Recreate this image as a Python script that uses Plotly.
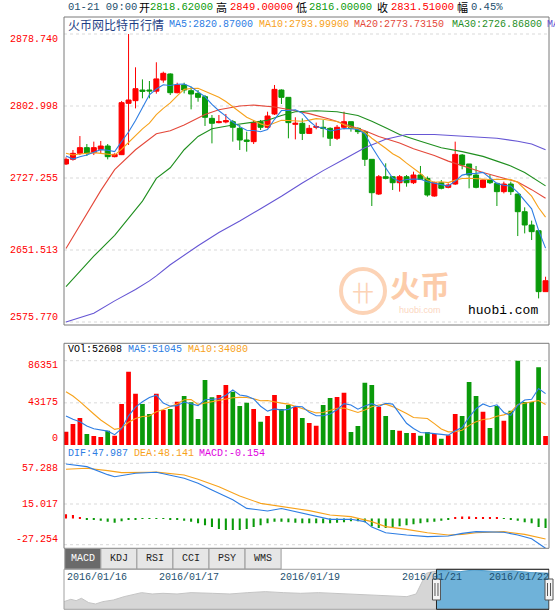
import plotly.graph_objects as go

# ---------------- data ----------------
hover_label = "01-21 09:00"
hover_idx = 13

opens = [2742.0, 2746.9, 2753.2, 2759.2, 2753.9, 2757.4, 2760.9, 2749.7, 2751.8, 2805.8,
         2808.6, 2819.8, 2819.8, 2818.62, 2830.3, 2836.7, 2817.0, 2825.1, 2819.1, 2816.3,
         2812.8, 2790.0, 2785.5, 2786.2, 2786.5, 2779.5, 2767.2, 2765.5, 2786.5, 2780.6,
         2794.6, 2819.8, 2812.1, 2783.7, 2784.8, 2774.2, 2780.6, 2780.6, 2779.5, 2769.0,
         2780.6, 2786.5, 2779.5, 2776.0, 2746.9, 2710.4, 2728.6, 2728.6, 2722.3, 2728.6,
         2722.3, 2730.4, 2726.9, 2708.3, 2722.3, 2717.4, 2720.9, 2751.4, 2742.0, 2730.4,
         2717.4, 2725.1, 2721.6, 2712.9, 2720.9, 2710.4, 2691.8, 2677.8, 2671.8, 2607.7]
highs = [2749.0, 2756.7, 2771.4, 2763.0, 2765.5, 2766.2, 2763.0, 2753.2, 2808.3, 2878.74,
         2843.7, 2831.0, 2829.3, 2849.0, 2839.1, 2837.4, 2827.5, 2827.5, 2823.3, 2819.8,
         2814.6, 2793.5, 2793.5, 2794.6, 2788.3, 2783.0, 2776.0, 2788.3, 2788.3, 2797.0,
         2825.1, 2820.5, 2812.1, 2791.1, 2790.0, 2783.0, 2785.5, 2788.3, 2780.6, 2783.0,
         2797.0, 2786.5, 2780.6, 2777.1, 2746.9, 2730.4, 2742.7, 2729.3, 2730.4, 2730.4,
         2733.9, 2739.9, 2728.9, 2723.4, 2725.1, 2721.6, 2765.5, 2752.5, 2742.0, 2739.9,
         2725.8, 2730.4, 2722.3, 2723.4, 2723.4, 2710.4, 2696.4, 2682.4, 2671.8, 2623.4]
lows = [2740.9, 2745.5, 2751.4, 2750.4, 2751.4, 2753.2, 2746.9, 2749.0, 2751.4, 2762.0,
        2800.5, 2811.1, 2811.1, 2816.0, 2827.5, 2814.6, 2816.3, 2816.3, 2799.5, 2807.5,
        2782.0, 2763.7, 2784.8, 2784.8, 2765.5, 2756.7, 2755.0, 2763.0, 2777.8, 2779.5,
        2793.5, 2805.1, 2769.0, 2767.9, 2767.2, 2773.5, 2778.5, 2770.0, 2760.9, 2767.2,
        2778.5, 2776.0, 2773.5, 2739.9, 2697.8, 2709.4, 2725.8, 2714.6, 2712.9, 2718.1,
        2720.9, 2725.1, 2707.6, 2707.6, 2715.3, 2716.4, 2719.9, 2736.4, 2716.4, 2716.4,
        2716.4, 2720.9, 2697.8, 2711.1, 2709.4, 2666.2, 2669.0, 2662.0, 2600.6, 2607.7]
closes = [2746.9, 2753.2, 2759.2, 2753.2, 2759.2, 2760.9, 2749.7, 2752.1, 2806.5, 2809.3,
          2821.2, 2818.4, 2818.83, 2831.51, 2837.4, 2817.0, 2825.1, 2819.8, 2815.6, 2812.1,
          2791.1, 2784.8, 2786.5, 2787.6, 2780.6, 2767.2, 2765.8, 2785.5, 2780.6, 2792.5,
          2820.5, 2812.1, 2785.5, 2784.8, 2774.2, 2779.5, 2781.3, 2779.5, 2769.0, 2780.6,
          2786.5, 2779.5, 2776.0, 2746.9, 2711.8, 2728.6, 2726.9, 2722.3, 2728.6, 2722.3,
          2730.4, 2725.8, 2709.4, 2722.3, 2716.4, 2719.9, 2752.1, 2740.9, 2730.4, 2717.4,
          2725.1, 2722.3, 2712.9, 2720.9, 2712.9, 2691.8, 2677.8, 2670.8, 2607.7, 2619.2]

ma5 = [2750.4, 2747.2, 2749.7, 2751.4, 2754.3, 2757.1, 2756.4, 2755.0, 2765.7, 2775.7,
       2787.8, 2801.5, 2814.8, 2820.87, 2825.4, 2824.5, 2825.9, 2826.2, 2823.0, 2817.9,
       2812.7, 2804.7, 2798.0, 2792.4, 2786.1, 2781.3, 2777.5, 2777.3, 2775.9, 2778.3,
       2789.0, 2798.2, 2798.2, 2799.1, 2795.4, 2787.2, 2781.1, 2779.9, 2776.7, 2778.0,
       2779.4, 2779.0, 2778.3, 2773.9, 2760.1, 2748.6, 2738.0, 2727.3, 2723.6, 2725.7,
       2726.1, 2725.9, 2723.3, 2722.0, 2720.9, 2718.8, 2724.0, 2730.3, 2731.9, 2732.1,
       2733.2, 2727.2, 2721.6, 2719.7, 2718.8, 2712.2, 2703.3, 2694.8, 2672.2, 2653.5]
ma10 = [2753.2, 2751.4, 2752.5, 2753.2, 2753.9, 2753.2, 2752.5, 2751.4, 2757.5, 2765.0,
        2772.5, 2779.0, 2784.9, 2793.999, 2800.5, 2806.2, 2813.7, 2820.5, 2821.4, 2821.7,
        2818.6, 2815.3, 2812.1, 2807.7, 2802.0, 2797.0, 2791.1, 2787.7, 2784.2, 2782.2,
        2785.2, 2787.9, 2787.8, 2787.5, 2786.9, 2788.1, 2789.7, 2789.1, 2787.9, 2786.7,
        2783.3, 2780.0, 2779.1, 2775.3, 2769.1, 2764.0, 2758.5, 2752.8, 2748.8, 2742.9,
        2737.3, 2732.0, 2725.3, 2722.8, 2723.3, 2722.4, 2725.0, 2726.8, 2727.0, 2726.5,
        2726.0, 2725.6, 2726.0, 2725.8, 2725.5, 2722.7, 2715.2, 2708.2, 2696.0, 2686.1]
ma20_idx = [0, 2, 5, 7, 10, 13, 15, 17, 20, 22, 25, 27, 30, 33, 35, 38, 40, 43, 45, 48,
            50, 53, 55, 58, 60, 63, 65, 67, 69]
ma20 = [2653, 2678, 2714, 2736, 2757, 2773.7315, 2777, 2783, 2794, 2799, 2803, 2804, 2802,
        2798, 2795, 2789, 2784, 2777, 2771, 2764, 2758, 2751, 2745, 2738, 2733, 2727, 2723,
        2715, 2706]
ma30_idx = [0, 4, 7, 9, 11, 13, 15, 17, 19, 21, 24, 27, 29, 31, 33, 36, 39, 42, 44, 46,
            48, 51, 54, 57, 60, 62, 64, 66, 69]
ma30 = [2613, 2645, 2667, 2685, 2703, 2726.868, 2738, 2757, 2771, 2779, 2783, 2786, 2788,
        2793, 2797, 2798, 2797, 2793, 2787, 2780, 2773, 2766, 2759, 2755, 2750, 2745, 2740,
        2733, 2719]
ma60_idx = [0, 4, 7, 10, 12, 13, 15, 19, 22, 25, 28, 31, 34, 37, 40, 43, 46, 49, 53, 58,
            62, 65, 67, 69]
ma60 = [2575.77, 2585, 2598, 2610, 2619, 2624.31, 2636, 2656, 2670, 2682, 2695, 2708, 2722,
        2735, 2747, 2759, 2768, 2773, 2773, 2771, 2769, 2766, 2763, 2757]

volumes = [13650, 21500, 27650, 11260, 9215, 8190, 14680, 9560, 41980, 75090,
           52560, 41980, 31740, 52608, 35840, 36860, 44370, 50170, 43690, 26620,
           66550, 48810, 51200, 61430, 54610, 39930, 43350, 36860, 23890, 29690,
           51200, 36860, 40960, 39250, 27650, 22530, 19800, 40960, 48120, 49150,
           53580, 13310, 19450, 63820, 61430, 39250, 29690, 15360, 14680, 12290,
           12290, 9560, 13310, 11260, 6485, 9900, 31740, 29690, 64510, 50170,
           34130, 17410, 39930, 24910, 35150, 86351, 44030, 44030, 79520, 9215]
vol_ma5 = [29690, 26260, 23890, 19450, 16655, 15563, 14199, 10581, 16725, 29900,
           38774, 44234, 48670, 51045, 42946, 39806, 40284, 43970, 42186, 40342,
           46280, 47168, 47374, 50922, 56520, 51196, 50104, 47236, 39728, 34744,
           36998, 35700, 36520, 39592, 39184, 33450, 30038, 30038, 31812, 36112,
           42322, 41024, 36722, 39862, 42318, 39452, 42728, 41910, 32082, 22254,
           16862, 12836, 12426, 11742, 10581, 10103, 14539, 17815, 28465, 37202,
           42048, 39182, 41230, 33310, 30306, 40750, 46074, 46894, 57816, 52629]
vol_ma10 = [54610, 50170, 44370, 37540, 31740, 25600, 20480, 16040, 17500, 23278,
            27169, 29217, 29626, 34080, 36423, 39290, 42259, 46320, 46491, 41644,
            43043, 43726, 45672, 46554, 48431, 48738, 48636, 47305, 45325, 45632,
            44097, 42902, 41878, 39660, 36964, 35224, 32869, 33279, 35702, 37648,
            37886, 35531, 33380, 35837, 39215, 40887, 41876, 39316, 35972, 32286,
            28157, 27782, 27168, 21912, 16418, 13483, 13688, 15121, 20104, 23892,
            26076, 26861, 29523, 30888, 33754, 41399, 42628, 44062, 45563, 41468]

dif_idx = [0, 3, 6, 7, 10, 12, 13, 17, 19, 21, 24, 26, 29, 31, 33, 35, 38, 41, 43, 44,
           46, 49, 52, 55, 57, 59, 63, 65, 67, 69]
dif = [56.6, 53.8, 45.5, 43.4, 46.9, 47.8, 47.987, 41.7, 36.5, 29.6, 19.5, 10.5, 7.7, 10.3,
       7.0, 3.6, -0.9, -0.9, -3.3, -9.0, -14.8, -17.2, -18.9, -18.2, -15.5, -13.7, -14.4,
       -17.2, -21.0, -31.0]
dea_idx = [0, 3, 6, 8, 12, 13, 17, 19, 22, 25, 28, 31, 35, 38, 41, 44, 46, 49, 52, 55,
           57, 59, 63, 66, 69]
dea = [51.1, 52.1, 49.7, 47.6, 48.0, 48.141, 45.2, 40.7, 33.0, 23.3, 15.7, 12.3, 8.1, 3.6,
       1.9, -3.3, -8.5, -11.3, -14.8, -17.2, -16.5, -14.8, -13.7, -16.5, -21.4]
macd_hist = [4.5, 3.5, 1.5, -0.8, -1.5, -2.5, -3.5, -4.5, -3.0, -1.5,
             -0.8, -0.4, -0.3, -0.154, -0.5, -1.0, -1.5, -2.5, -3.5, -5.0,
             -7.0, -9.0, -11.0, -12.0, -12.0, -12.0, -11.0, -9.0, -7.0, -5.0,
             -3.5, -3.5, -4.0, -4.5, -5.0, -5.0, -5.0, -5.0, -5.0, -4.5,
             -4.0, -3.0, -3.0, -4.0, -8.0, -10.0, -10.0, -9.0, -8.0, -7.0,
             -6.0, -5.0, -4.0, -3.5, -2.5, -1.5, 1.0, 2.0, 2.0, 1.5,
             1.0, 1.0, 0.8, -0.5, -1.0, -2.5, -4.0, -5.0, -9.0, -10.0]

nav_pos = [0, 1.4, 2.5, 3.6, 5.1, 6.5, 8.0, 10.2, 12.4, 14.5, 16.0, 18.2, 20.4, 23.3, 26.2,
           30.6, 34.2, 37.9, 41.5, 45.2, 48.8, 52.5, 56.1, 59.8, 63.4, 67.1, 70.7, 72.6,
           73.6, 74.7, 75.9, 78.8, 81.7, 84.6, 89.0, 92.6, 96.3, 100]
nav_val = [23, 30, 26, 33, 20, 16, 23, 28, 38, 46, 50, 46, 48, 46, 50, 48, 46, 50, 53, 50,
           48, 50, 48, 46, 43, 40, 38, 46, 78, 108, 113, 116, 113, 118, 113, 115, 110, 108]
nav_sel = [76.8, 100]
nav_dates = ["2016/01/16", "2016/01/17", "2016/01/19", "2016/01/21", "2016/01/22"]
nav_date_pos = [0.3, 19.1, 44.1, 69.3, 87.2]

price_ticks = [2575.770, 2651.513, 2727.255, 2802.998, 2878.740]
vol_ticks = [0, 43175, 86351]
macd_ticks = [-27.254, 15.017, 57.288]
tabs = ["MACD", "KDJ", "RSI", "CCI", "PSY", "WMS"]

# ---------------- styling / layout helpers ----------------
W, H = 555, 614
L, R = 64, 549
def fx(p): return p / W
def fy(p): return 1 - p / H

RED = "#ff0000"
GREEN = "#0a9a0a"
C_MA5 = "#2d7de3"
C_MA10 = "#f7a21b"
C_MA20 = "#e4483a"
C_MA30 = "#1f8f1f"
C_MA60 = "#6656d4"
C_MAG = "#e000e0"
NAVY = "#1d4f6e"
MONO = "Liberation Mono, Noto Sans CJK SC, monospace"
CJK = "Noto Sans CJK SC, sans-serif"

n = len(closes)
idx = list(range(n))
step = 6.95
x_first = 66
x_range = [(L - x_first) / step, (R - x_first) / step]

fig = go.Figure()

# main: candles + MAs
fig.add_trace(go.Candlestick(
    x=idx, open=opens, high=highs, low=lows, close=closes,
    increasing=dict(line=dict(color=RED, width=1), fillcolor=RED),
    decreasing=dict(line=dict(color=GREEN, width=1), fillcolor=GREEN),
    whiskerwidth=0, hoverinfo="skip", xaxis="x", yaxis="y"))
for xs, ys, c in [(ma20_idx, ma20, C_MA20), (ma30_idx, ma30, C_MA30),
                  (ma60_idx, ma60, C_MA60), (idx, ma10, C_MA10), (idx, ma5, C_MA5)]:
    fig.add_trace(go.Scatter(x=xs, y=ys, mode="lines", line=dict(color=c, width=1.1),
                             hoverinfo="skip", xaxis="x", yaxis="y"))

# volume
up = [c >= o for o, c in zip(opens, closes)]
fig.add_trace(go.Bar(x=idx, y=volumes, width=0.68,
                     marker=dict(color=[RED if u else GREEN for u in up], line=dict(width=0)),
                     hoverinfo="skip", xaxis="x2", yaxis="y2"))
fig.add_trace(go.Scatter(x=idx, y=vol_ma10, mode="lines", line=dict(color=C_MA10, width=1.1),
                         hoverinfo="skip", xaxis="x2", yaxis="y2"))
fig.add_trace(go.Scatter(x=idx, y=vol_ma5, mode="lines", line=dict(color=C_MA5, width=1.1),
                         hoverinfo="skip", xaxis="x2", yaxis="y2"))

# MACD
fig.add_trace(go.Bar(x=idx, y=macd_hist, width=0.3,
                     marker=dict(color=[RED if v > 0 else GREEN for v in macd_hist], line=dict(width=0)),
                     hoverinfo="skip", xaxis="x3", yaxis="y3"))
fig.add_trace(go.Scatter(x=dea_idx, y=dea, mode="lines", line=dict(color=C_MA10, width=1.1),
                         hoverinfo="skip", xaxis="x3", yaxis="y3"))
fig.add_trace(go.Scatter(x=dif_idx, y=dif, mode="lines", line=dict(color=C_MA5, width=1.1),
                         hoverinfo="skip", xaxis="x3", yaxis="y3"))

# navigator
fig.add_trace(go.Scatter(x=nav_pos, y=nav_val, mode="lines", fill="tozeroy",
                         fillcolor="#d6d6d6", line=dict(color="#c4c4c4", width=1),
                         hoverinfo="skip", xaxis="x4", yaxis="y4"))
sel_x = [p for p in nav_pos if nav_sel[0] <= p <= nav_sel[1]]
sel_y = [v for p, v in zip(nav_pos, nav_val) if nav_sel[0] <= p <= nav_sel[1]]
fig.add_trace(go.Scatter(x=[nav_sel[0]] + sel_x, y=[sel_y[0]] + sel_y, mode="lines", fill="tozeroy",
                         fillcolor="#6fb2d9", line=dict(color="#4f9fcf", width=1),
                         hoverinfo="skip", xaxis="x4", yaxis="y4"))

ax_common = dict(showgrid=False, zeroline=False, showticklabels=False, showline=False,
                 ticks="", fixedrange=True)
main_top, main_bot = 17, 325
y0_px, y_scale = 106, 0.9506   # 2802.998 sits at y=106 px, px per unit
main_range = [price_ticks[3] - (main_bot - y0_px) / y_scale,
              price_ticks[3] + (y0_px - main_top) / y_scale]
vol_top, vol_zero, vol_max_px = 343.3, 445, 360.7
vol_range = [0, vol_ticks[2] * (vol_zero - vol_top) / (vol_zero - vol_max_px)]
mac_top, mac_bot, mac_hi_px, mac_lo_px = 446, 548.3, 463.3, 544.7
mscale = (mac_lo_px - mac_hi_px) / (macd_ticks[2] - macd_ticks[0])
mac_range = [macd_ticks[0] - (mac_bot - mac_lo_px) / mscale,
             macd_ticks[2] + (mac_hi_px - mac_top) / mscale]
nav_top, nav_bot = 569.3, 609.3

fig.update_layout(
    width=W, height=H, margin=dict(l=0, r=0, t=0, b=0),
    paper_bgcolor="white", plot_bgcolor="white", showlegend=False, hovermode=False,
    boxgap=0.28, boxgroupgap=0,
    xaxis=dict(domain=[fx(L), fx(R)], range=x_range, anchor="y",
               rangeslider=dict(visible=False), **ax_common),
    xaxis2=dict(domain=[fx(L), fx(R)], range=x_range, anchor="y2", **ax_common),
    xaxis3=dict(domain=[fx(L), fx(R)], range=x_range, anchor="y3", **ax_common),
    xaxis4=dict(domain=[fx(L), fx(R)], range=[0, 100], anchor="y4", **ax_common),
    yaxis=dict(domain=[fy(main_bot), fy(main_top)], range=main_range, anchor="x", **ax_common),
    yaxis2=dict(domain=[fy(vol_zero), fy(vol_top)], range=vol_range, anchor="x2", **ax_common),
    yaxis3=dict(domain=[fy(mac_bot), fy(mac_top)], range=mac_range, anchor="x3", **ax_common),
    yaxis4=dict(domain=[fy(nav_bot), fy(nav_top)], range=[0, 120], anchor="x4", **ax_common),
)

shapes = []
ann = []

def txt(x, y, s, color, size=10, anchor="left", family=MONO, bold=False):
    ann.append(dict(x=fx(x), y=fy(y), xref="paper", yref="paper", text=("<b>%s</b>" % s) if bold else s,
                    showarrow=False, xanchor=anchor, yanchor="middle",
                    font=dict(family=family, size=size, color=color)))

def grid(yref, val):
    shapes.append(dict(type="line", xref="paper", yref=yref, x0=fx(L), x1=fx(R), y0=val, y1=val,
                       line=dict(color="#d9d9d9", width=1, dash="dot"), layer="below"))

def ticklab(yref, val, text, shift):
    ann.append(dict(x=fx(59.5), y=val, xref="paper", yref=yref, yshift=shift, text=text,
                    showarrow=False, xanchor="right", yanchor="middle",
                    font=dict(family=MONO, size=10, color=RED)))

# gridlines + tick labels
for i, v in enumerate(price_ticks):
    grid("y", v)
    ticklab("y", v, "%.3f" % v, 5 if i == 0 else (-5 if i == len(price_ticks) - 1 else 0))
for i, v in enumerate(vol_ticks):
    if v > 0:
        grid("y2", v)
    ticklab("y2", v, "%d" % v, 7 if i == 0 else (-5 if i == 2 else 0))
for i, v in enumerate(macd_ticks):
    grid("y3", v)
    ticklab("y3", v, "%.3f" % v, 5 if i == 0 else (-5 if i == 2 else 0))

# panel borders
shapes.append(dict(type="rect", xref="paper", yref="paper", x0=fx(L), x1=fx(R),
                   y0=fy(main_bot), y1=fy(main_top), line=dict(color="#7a7a7a", width=1)))
shapes.append(dict(type="rect", xref="paper", yref="paper", x0=fx(L), x1=fx(R),
                   y0=fy(mac_bot), y1=fy(vol_top), line=dict(color="#7a7a7a", width=1)))

# header line
h = hover_idx
chg = (closes[h] / closes[h - 1] - 1) * 100
txt(65.5, 7, hover_label, NAVY, 10.5)
txt(137, 7, "开", "#000000", 11, family=CJK)
txt(148, 7, "%.5f" % opens[h], GREEN, 10.5)
txt(214, 7, "高", "#000000", 11, family=CJK)
txt(227.6, 7, "%.5f" % highs[h], RED, 10.5)
txt(294, 7, "低", "#000000", 11, family=CJK)
txt(307, 7, "%.5f" % lows[h], GREEN, 10.5)
txt(374.5, 7, "收", "#000000", 11, family=CJK)
txt(388.7, 7, "%.5f" % closes[h], RED, 10.5)
txt(455, 7, "幅", "#000000", 11, family=CJK)
txt(469, 7, "%.2f%%" % chg, NAVY, 10.5)

# main legend
txt(65.5, 24, "火币网比特币行情", "#1f3f86", 12, family=CJK)
txt(167, 24, "MA5:%.5f" % ma5[h], C_MA5)
txt(257, 24, "MA10:%.5f" % ma10[h], C_MA10)
txt(352, 24, "MA20:%.5f" % ma20[ma20_idx.index(h)], C_MA20)
txt(450, 24, "MA30:%.5f" % ma30[ma30_idx.index(h)], C_MA30)
txt(545, 24, "MA60:%.5f" % ma60[ma60_idx.index(h)], C_MA60)

# volume legend
txt(65.5, 349.5, "VOl:%d" % volumes[h], "#000000")
txt(125.7, 349.5, "MA5:%d" % vol_ma5[h], C_MA5)
txt(186, 349.5, "MA10:%d" % vol_ma10[h], C_MA10)

# macd legend
txt(65.5, 453.5, "DIF:%.3f" % dif[dif_idx.index(h)], C_MA5)
txt(131.7, 453.5, "DEA:%.3f" % dea[dea_idx.index(h)], C_MA10)
txt(197, 453.5, "MACD:%.3f" % macd_hist[h], C_MAG)

# watermark
shapes.append(dict(type="circle", xref="paper", yref="paper", x0=fx(341), x1=fx(385),
                   y0=fy(313), y1=fy(269), line=dict(color="#fcd3b6", width=4)))
txt(363, 291, "卄", "#fcd3b6", 22, anchor="center", family=CJK)
txt(420, 284, "火币", "#fcccaa", 30, anchor="center", family=CJK, bold=True)
txt(420, 310, "huobi.com", "#fcd6bf", 9, anchor="center", family="Liberation Sans, sans-serif")
txt(466, 310, "huobi.com", "#000000", 13)

# tabs
tab_w = 36.05
for i, t in enumerate(tabs):
    x0 = 64.8 + tab_w * i
    active = i == 0
    shapes.append(dict(type="rect", xref="paper", yref="paper", x0=fx(x0), x1=fx(x0 + tab_w),
                       y0=fy(569), y1=fy(548.5),
                       fillcolor="#6a6a6a" if active else "#e6e6e6",
                       line=dict(color="#9c9c9c", width=1)))
    txt(x0 + tab_w / 2, 558.5, t, "#ffffff" if active else "#222222", 10, anchor="center")

# navigator frame, selection, handles, dates
shapes.append(dict(type="rect", xref="paper", yref="paper", x0=fx(L), x1=fx(R),
                   y0=fy(nav_bot), y1=fy(nav_top), line=dict(color="#a0a0a0", width=1)))
shapes.append(dict(type="rect", xref="x4", yref="paper", x0=nav_sel[0], x1=nav_sel[1],
                   y0=fy(nav_bot), y1=fy(nav_top), line=dict(color="#222222", width=1)))
for p in nav_sel:
    xp = L + (R - L) * p / 100
    shapes.append(dict(type="rect", xref="paper", yref="paper", x0=fx(xp - 4), x1=fx(xp + 4),
                       y0=fy(600), y1=fy(579), fillcolor="#f4f4f4",
                       line=dict(color="#555555", width=1)))
    for dx in (-1.5, 1.5):
        shapes.append(dict(type="line", xref="paper", yref="paper", x0=fx(xp + dx), x1=fx(xp + dx),
                           y0=fy(596), y1=fy(583), line=dict(color="#555555", width=1)))
for d, p in zip(nav_dates, nav_date_pos):
    ann.append(dict(x=p, y=fy(577), xref="x4", yref="paper", text=d, showarrow=False,
                    xanchor="left", yanchor="middle", font=dict(family=MONO, size=10, color=NAVY)))

fig.update_layout(shapes=shapes, annotations=ann)
fig.write_html("out.html", config={"displayModeBar": False},
               post_script="document.body.style.margin='0';document.body.style.overflow='hidden';")
